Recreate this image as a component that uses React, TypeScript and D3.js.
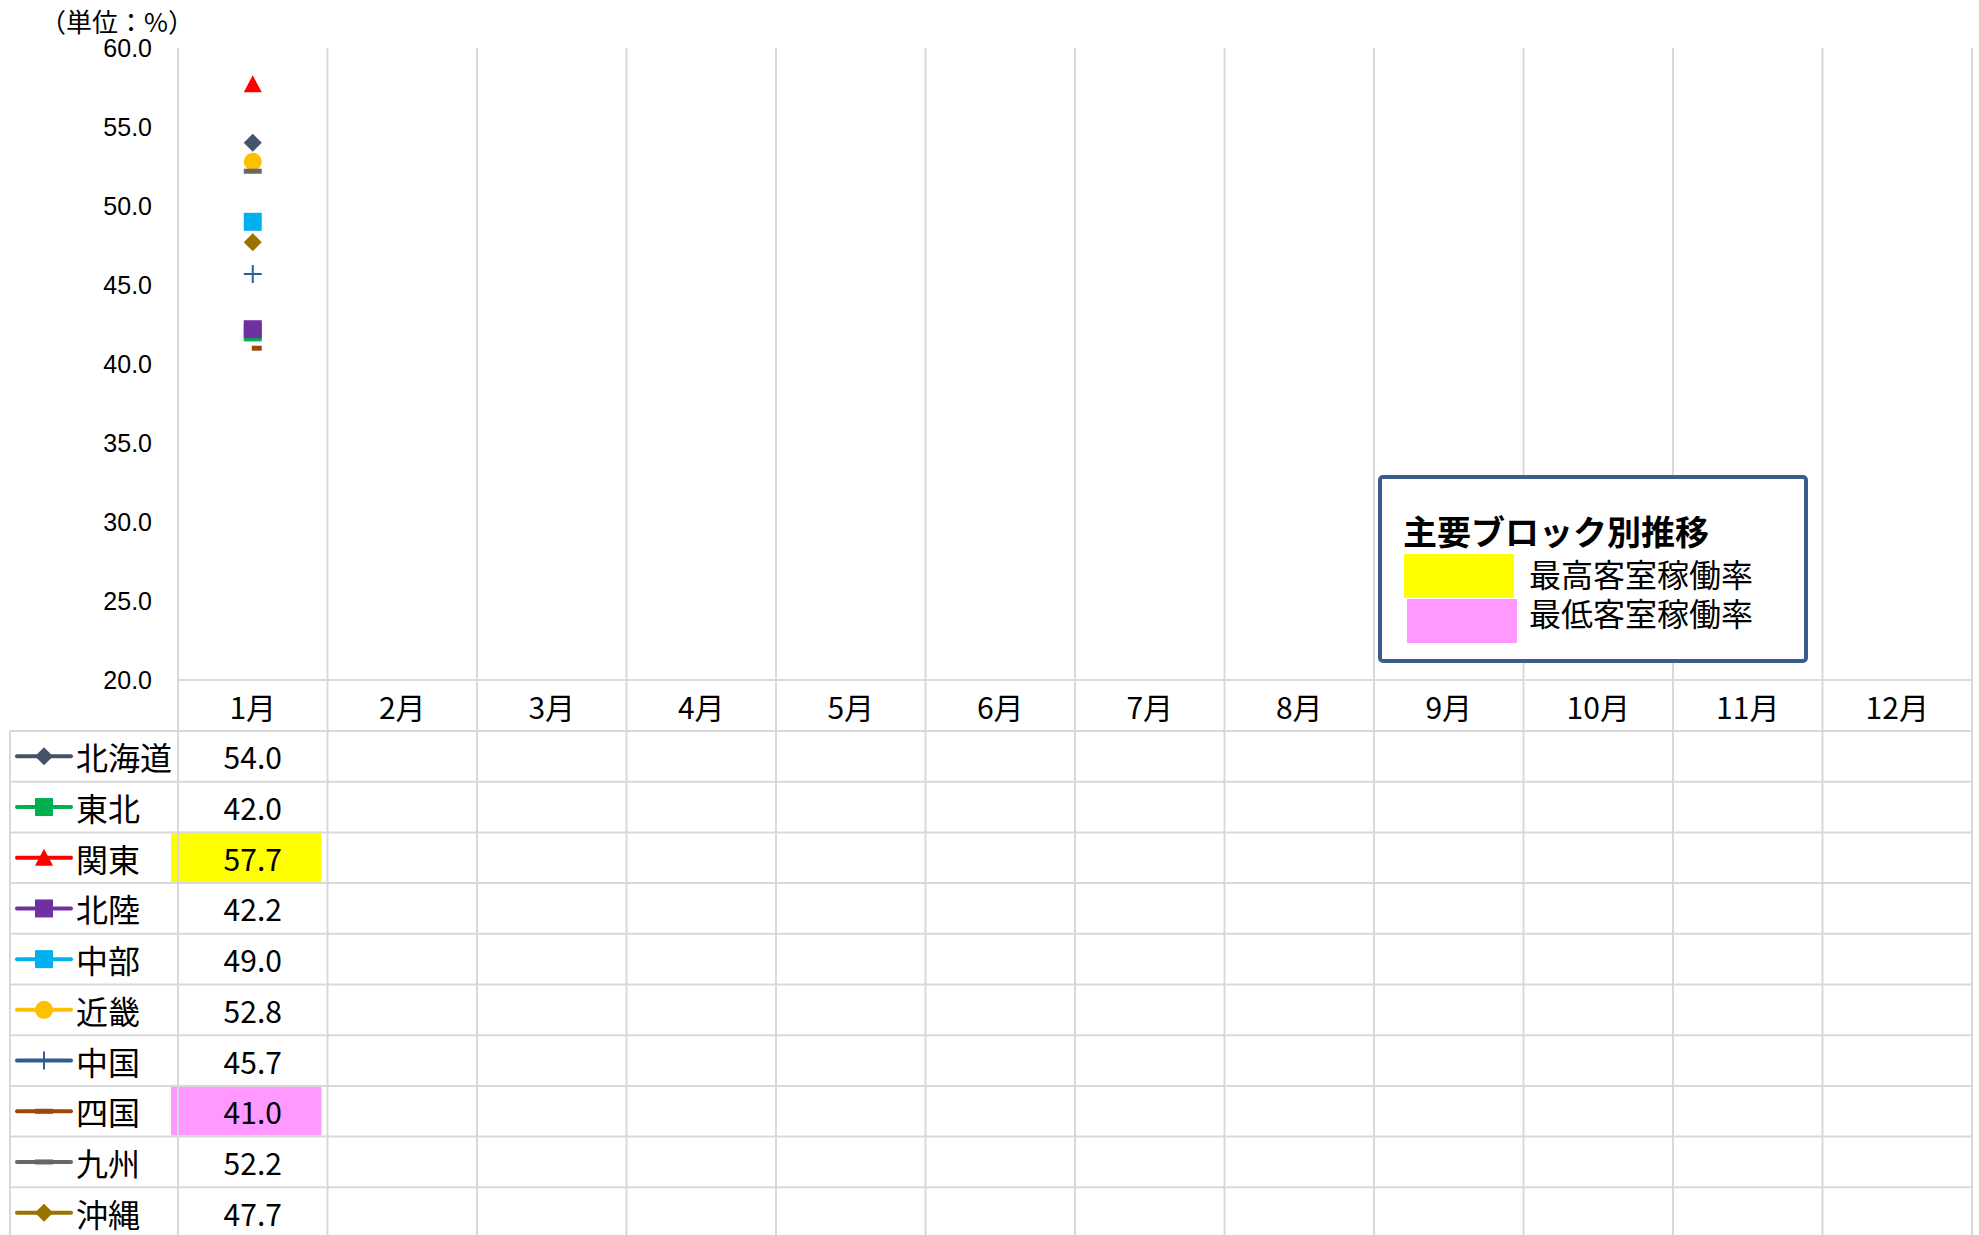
import * as d3 from "d3";

const months = ["1月", "2月", "3月", "4月", "5月", "6月", "7月", "8月", "9月", "10月", "11月", "12月"];
const regions = ["北海道", "東北", "関東", "北陸", "中部", "近畿", "中国", "四国", "九州", "沖縄"];
// January occupancy rate (%) per region; other months not yet published
const janValues = [54.0, 42.0, 57.7, 42.2, 49.0, 52.8, 45.7, 41.0, 52.2, 47.7];
const colors = ["#44546a", "#00b050", "#ff0000", "#7030a0", "#00b0f0", "#ffc000", "#2e5f94", "#9e480e", "#676767", "#997300"];
const shapes = ["diamond", "square", "triangle", "square", "square", "circle", "plus", "shortdash", "dash", "diamond"];
const yTicks = [20, 25, 30, 35, 40, 45, 50, 55, 60];

const W = 1979;
const H = 1235;
const plotLeft = 178;
const plotRight = 1972;
const plotTop = 48;
const plotBottom = 680;
const headerBottom = 731;
const rowH = 50.7;
const grid = "#d9d9d9";
const cjk = "'Noto Sans CJK JP', 'Noto Sans', sans-serif";

function Marker({ shape, cx, cy, color }: { shape: string; cx: number; cy: number; color: string }) {
  const s = 9;
  switch (shape) {
    case "diamond":
      return <path d={`M${cx},${cy - s}L${cx + s},${cy}L${cx},${cy + s}L${cx - s},${cy}Z`} fill={color} />;
    case "square":
      return <rect x={cx - s} y={cy - s} width={2 * s} height={2 * s} fill={color} />;
    case "triangle":
      return <path d={`M${cx},${cy - s}L${cx + s},${cy + s - 1}L${cx - s},${cy + s - 1}Z`} fill={color} />;
    case "circle":
      return <circle cx={cx} cy={cy} r={s} fill={color} />;
    case "plus":
      return <path d={`M${cx - s},${cy}H${cx + s}M${cx},${cy - s}V${cy + s}`} stroke={color} strokeWidth={2} fill="none" />;
    case "shortdash":
      return <rect x={cx - 1} y={cy - 2.5} width={10} height={5} fill={color} />;
    case "dash":
      return <rect x={cx - s} y={cy - 2.5} width={2 * s} height={5} fill={color} />;
    default:
      return null;
  }
}

export default function App() {
  const x = d3.scaleBand<string>().domain(months).range([plotLeft, plotRight]);
  const y = d3.scaleLinear().domain([20, 60]).range([plotBottom, plotTop]);
  const row = d3
    .scaleBand<string>()
    .domain(regions)
    .range([headerBottom, headerBottom + rowH * regions.length]);

  const maxV = d3.max(janValues) as number;
  const minV = d3.min(janValues) as number;
  const cx0 = (x(months[0]) as number) + x.bandwidth() / 2;

  return (
    <svg width={W} height={H} style={{ position: "absolute", left: 0, top: 0, background: "#fff" }}>
      {/* highlighted cells */}
      {janValues.map((v, i) =>
        v === maxV || v === minV ? (
          <rect
            key={"hl" + i}
            x={(x(months[0]) as number) - 7}
            y={(row(regions[i]) as number) - 1}
            width={x.bandwidth() + 1}
            height={rowH}
            fill={v === maxV ? "#ffff00" : "#ff99ff"}
          />
        ) : null
      )}

      {/* vertical grid lines */}
      {months.map((m) => (
        <line key={"v" + m} x1={x(m)} x2={x(m)} y1={plotTop} y2={H} stroke={grid} strokeWidth={2} />
      ))}
      <line x1={plotRight} x2={plotRight} y1={plotTop} y2={H} stroke={grid} strokeWidth={2} />
      <line x1={10} x2={10} y1={headerBottom} y2={H} stroke={grid} strokeWidth={2} />

      {/* horizontal table lines */}
      <line x1={plotLeft} x2={plotRight} y1={plotBottom} y2={plotBottom} stroke={grid} strokeWidth={2} />
      {regions.map((r) => (
        <line key={"h" + r} x1={10} x2={plotRight} y1={row(r)} y2={row(r)} stroke={grid} strokeWidth={2} />
      ))}

      {/* y axis */}
      <text x={40} y={20} fontFamily={cjk} fontSize={26} dominantBaseline="central" fill="#000">
        （単位：%）
      </text>
      {yTicks.map((t) => (
        <text
          key={"yt" + t}
          x={152}
          y={y(t)}
          textAnchor="end"
          dominantBaseline="central"
          fontFamily="'Liberation Sans', Arial, sans-serif"
          fontSize={25}
          fill="#000"
        >
          {d3.format(".1f")(t)}
        </text>
      ))}

      {/* month labels */}
      {months.map((m) => (
        <text
          key={"m" + m}
          x={(x(m) as number) + x.bandwidth() / 2}
          y={706}
          textAnchor="middle"
          dominantBaseline="central"
          fontFamily={cjk}
          fontSize={30}
          fill="#000"
        >
          {m}
        </text>
      ))}

      {/* markers */}
      {regions.map((r, i) => (
        <Marker key={"mk" + r} shape={shapes[i]} cx={cx0} cy={y(janValues[i])} color={colors[i]} />
      ))}

      {/* table rows */}
      {regions.map((r, i) => {
        const cy = (row(r) as number) + rowH / 2;
        return (
          <g key={"row" + r}>
            <line x1={17} x2={71} y1={cy} y2={cy} stroke={colors[i]} strokeWidth={4} strokeLinecap="round" />
            <Marker shape={shapes[i] === "shortdash" ? "dash" : shapes[i]} cx={44} cy={cy} color={colors[i]} />
            <text x={76} y={cy} dominantBaseline="central" fontFamily={cjk} fontSize={32} fill="#000">
              {r}
            </text>
            <text
              x={cx0}
              y={cy}
              textAnchor="middle"
              dominantBaseline="central"
              fontFamily={cjk}
              fontSize={30}
              fill="#000"
            >
              {d3.format(".1f")(janValues[i])}
            </text>
          </g>
        );
      })}

      {/* legend box */}
      <rect x={1380} y={477} width={426} height={184} rx={3} fill="#fff" stroke="#3a5e8c" strokeWidth={4} />
      <text x={1403} y={530} dominantBaseline="central" fontFamily={cjk} fontWeight="bold" fontSize={34} fill="#000">
        主要ブロック別推移
      </text>
      <rect x={1404} y={554} width={110} height={44} fill="#ffff00" />
      <rect x={1407} y={599} width={110} height={44} fill="#ff99ff" />
      <text x={1529} y={573} dominantBaseline="central" fontFamily={cjk} fontSize={32} fill="#000">
        最高客室稼働率
      </text>
      <text x={1529} y={612} dominantBaseline="central" fontFamily={cjk} fontSize={32} fill="#000">
        最低客室稼働率
      </text>
    </svg>
  );
}
